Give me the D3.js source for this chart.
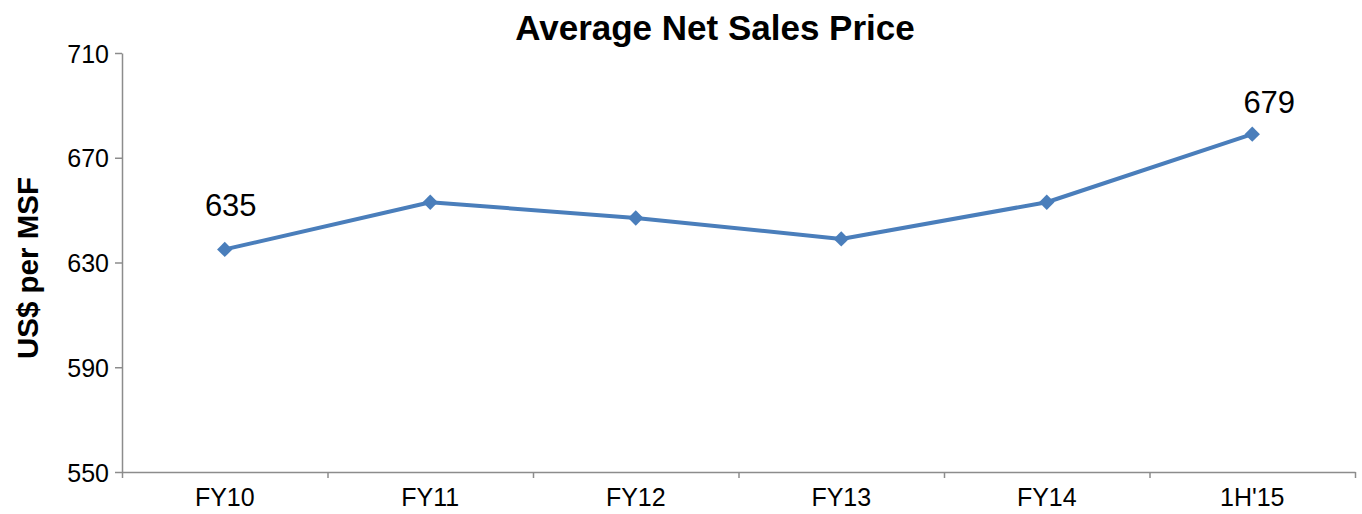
<!DOCTYPE html>
<html>
<head>
<meta charset="utf-8">
<script src="https://cdn.jsdelivr.net/npm/d3@7"></script>
<style>
  body { margin: 0; background: #fff; }
  svg { display: block; font-family: "Liberation Sans", Arial, sans-serif; }
  .axis path, .axis line { stroke: #8c8c8c; stroke-width: 1.5; }
  .axis text { font-size: 25px; fill: #000; }
</style>
</head>
<body>
<svg id="chart"></svg>
<script>
const categories = ['FY10', 'FY11', 'FY12', 'FY13', 'FY14', "1H'15"];
const prices = [635, 653, 647, 639, 653, 679];
const labelled = [635, null, null, null, null, 679];
const yTicks = [550, 590, 630, 670, 710];

const w = 1362, h = 514;
const margin = { left: 122, right: 7, top: 53, bottom: 42 };
const lineColor = '#4a7ebb';
// label nudges relative to their point (dx, dy)
const labelNudge = { 0: [6, -33], 5: [17, -21] };

const chart = d3.select('#chart')
    .attr('width', w)
    .attr('height', h);

const xScale = d3.scaleBand()
    .domain(categories)
    .range([margin.left, w - margin.right]);

// boundaries between categories carry the tick marks
const xEdges = d3.scaleLinear()
    .domain([0, categories.length])
    .range([margin.left, w - margin.right]);

const yScale = d3.scaleLinear()
    .domain([550, 710])
    .range([h - margin.bottom, margin.top]);

chart.append('text')
    .attr('x', 715)
    .attr('y', 40)
    .attr('text-anchor', 'middle')
    .attr('font-size', '35px')
    .attr('font-weight', 'bold')
    .text('Average Net Sales Price');

chart.append('text')
    .attr('transform', `translate(38, ${268}) rotate(-90)`)
    .attr('text-anchor', 'middle')
    .attr('font-size', '29.5px')
    .attr('font-weight', 'bold')
    .text('US$ per MSF');

// y axis
chart.append('g')
    .attr('class', 'axis')
    .attr('transform', `translate(${margin.left}, 0)`)
    .call(d3.axisLeft(yScale).tickValues(yTicks).tickSize(7).tickSizeOuter(0).tickPadding(6).tickFormat(d3.format('d')))
    .selectAll('text')
    .attr('dy', '0.36em');

// x axis tick marks at category boundaries
chart.append('g')
    .attr('class', 'axis')
    .attr('transform', `translate(0, ${h - margin.bottom})`)
    .call(d3.axisBottom(xEdges).tickValues(d3.range(categories.length + 1)).tickSize(6).tickSizeOuter(0).tickFormat(''));

// x axis labels
chart.append('g')
    .attr('class', 'axis')
    .attr('transform', `translate(0, ${h - margin.bottom})`)
    .call(d3.axisBottom(xScale).tickSize(0).tickPadding(16))
    .call(g => g.select('.domain').remove());

const data = categories.map((c, i) => ({ i: i, cat: c, v: prices[i], label: labelled[i] }));
const cx = d => xScale(d.cat) + xScale.bandwidth() / 2;

const line = d3.line()
    .x(cx)
    .y(d => yScale(d.v));

chart.append('path')
    .datum(data)
    .attr('d', line)
    .attr('fill', 'none')
    .attr('stroke', lineColor)
    .attr('stroke-width', 4)
    .attr('stroke-linejoin', 'round');

chart.selectAll('.dot')
    .data(data)
    .enter()
    .append('path')
    .attr('class', 'dot')
    .attr('d', d3.symbol().type(d3.symbolDiamond2).size(150))
    .attr('transform', d => `translate(${cx(d)}, ${yScale(d.v)})`)
    .attr('fill', lineColor);

chart.selectAll('.val')
    .data(data.filter(d => d.label !== null))
    .enter()
    .append('text')
    .attr('class', 'val')
    .attr('x', d => cx(d) + labelNudge[d.i][0])
    .attr('y', d => yScale(d.v) + labelNudge[d.i][1])
    .attr('text-anchor', 'middle')
    .attr('font-size', '31px')
    .text(d => d.label);
</script>
</body>
</html>
